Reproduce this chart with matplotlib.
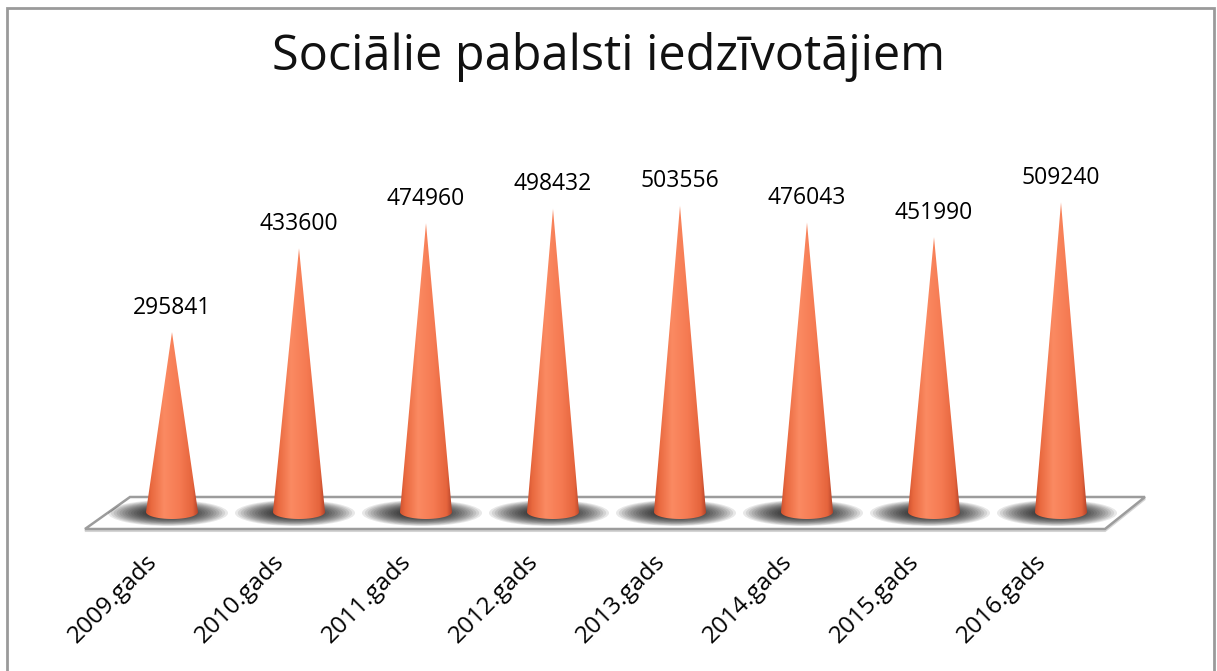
import numpy as np
import matplotlib
matplotlib.use("Agg")
import matplotlib.pyplot as plt
from matplotlib.patches import Polygon, Ellipse, Rectangle, PathPatch
from matplotlib.path import Path
from matplotlib.colors import LinearSegmentedColormap

# data
title = "Sociālie pabalsti iedzīvotājiem"
years = ["2009.gads", "2010.gads", "2011.gads", "2012.gads",
         "2013.gads", "2014.gads", "2015.gads", "2016.gads"]
values = [295841, 433600, 474960, 498432, 503556, 476043, 451990, 509240]

plt.rcParams['font.family'] = ['Open Sans', 'DejaVu Sans']

W, H = 1217, 671
fig = plt.figure(figsize=(W / 100, H / 100), dpi=100)
ax = fig.add_axes([0, 0, 1, 1])

# layout in pixels: first cone at x0, one category every dx px,
# value 0 sits at y0 and k px per unit of value
x0, dx = 172, 127
y0, k = 512, 6.08e-4
ax.set_xlim(-x0 / dx, (W - x0) / dx)
ax.set_ylim((y0 - H) / k, y0 / k)
ax.axis('off')

def px(p):      # horizontal pixel distance -> category units
    return p / dx

def py(p):      # vertical pixel distance -> value units
    return p / k

# floor (a thin slab: light lower edge under the grey outline)
slab = Polygon([(px(-87), py(-19)), (px(933), py(-19)),
                (px(973), py(13)), (px(-42), py(13))],
               closed=True, facecolor='none', edgecolor='#d4d4d4',
               lw=1.5, zorder=1)
ax.add_patch(slab)
floor = Polygon([(px(-87), py(-17)), (px(933), py(-17)),
                 (px(973), py(15)), (px(-42), py(15))],
                closed=True, facecolor='white', edgecolor='#9c9c9c',
                lw=1.8, zorder=1)
ax.add_patch(floor)

# soft shadows on the floor
for i in range(len(values)):
    n = 14
    for j in range(n):
        f = 1 - j / n
        e = Ellipse((i - px(4), -py(1)), px(40 + 80 * f), py(8 + 18 * f),
                    facecolor='black', edgecolor='none', alpha=0.09, zorder=2)
        ax.add_patch(e)
        e.set_clip_path(floor)

cmap = LinearSegmentedColormap.from_list(
    'cone', [(0, '#d0522f'), (0.1, '#e9693f'), (0.35, '#fb8a62'),
             (0.65, '#f57a52'), (0.9, '#e5643c'), (1, '#b4442a')])
grad = np.linspace(0, 1, 256).reshape(1, -1)

hw = px(26)   # half base width
eh = py(7)    # half height of the base ellipse

for i, v in enumerate(values):
    t = np.linspace(0, -np.pi, 40)
    verts = [(i - hw, 0), (i, v), (i + hw, 0)]
    verts += list(zip(i + hw * np.cos(t), eh * np.sin(t)))
    verts.append((i - hw, 0))
    path = Path(verts, closed=True)
    patch = PathPatch(path, facecolor='none', edgecolor='none', zorder=3)
    ax.add_patch(patch)
    im = ax.imshow(grad, cmap=cmap, aspect='auto', zorder=3,
                   extent=[i - hw, i + hw, -eh, v], interpolation='bilinear')
    im.set_clip_path(patch)

    ax.annotate(f"{v}", (i, v), xytext=(0, 9), textcoords='offset points',
                ha='center', va='bottom', fontsize=16.5, color='black', zorder=5)

    ax.text(i - px(10), -py(38), years[i], rotation=45, ha='right', va='top',
            fontsize=17.5, color='black', zorder=5)

fig.text(0.5, 1 - 57 / H, title, ha='center', va='center', fontsize=35,
         color='#111111')

# chart border
fig.patches.append(Rectangle((7 / W, -0.05), (1214 - 7) / W, 1 - 8 / H + 0.05,
                             transform=fig.transFigure, fill=False,
                             edgecolor='#9a9a9a', lw=2))

fig.savefig("out.png", dpi=100)
